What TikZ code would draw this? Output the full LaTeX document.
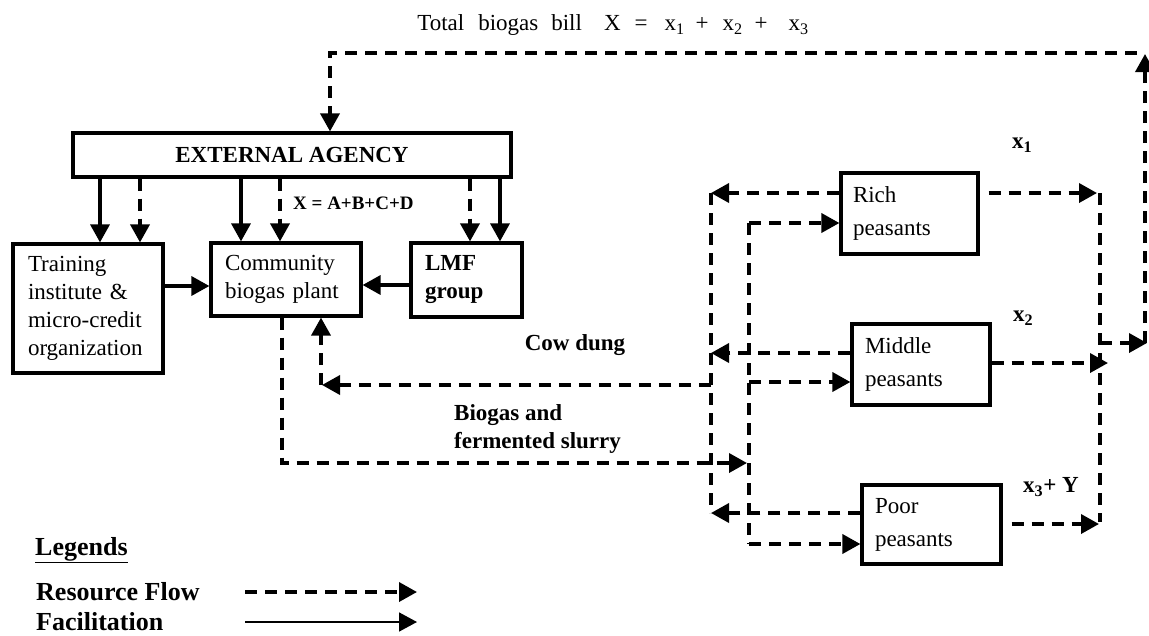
\documentclass[tikz,border=0pt]{standalone}
\usepackage{fontspec}
\setmainfont{Liberation Serif}
\usetikzlibrary{arrows.meta}
\tikzset{
  box/.style={draw, line width=3.2pt, rectangle, inner sep=0pt},
  tipend/.style={-{Triangle[length=18pt,width=19pt]}},
  flowline/.style={line width=3.6pt, dash pattern=on 12pt off 8pt},
  flow/.style={flowline, tipend},
  fac/.style={line width=3.4pt, tipend},
  thinfac/.style={line width=1.6pt, tipend},
  txt/.style={font=\fontsize{23}{28}\selectfont},
  ptxt/.style={font=\fontsize{23}{33}\selectfont},
  btxt/.style={font=\bfseries\fontsize{23}{28}\selectfont},
  legtxt/.style={font=\bfseries\fontsize{26}{30}\selectfont, anchor=west, inner sep=0pt},
}
\begin{document}
\begin{tikzpicture}[x=1pt, y=-1pt]
\useasboundingbox (0,0) rectangle (1149,635);

% ---- boxes ----
\node[box, btxt, minimum width=438pt, minimum height=44pt] (ext) at (292,155) {EXTERNAL AGENCY};
\node[box, txt, minimum width=150pt, minimum height=129pt, text width=120pt, align=left] (train) at (88,308.5)
  {Training\\institute \&\\micro-credit\\organization};
\node[box, txt, minimum width=150pt, minimum height=73pt, text width=122pt, align=left] (comm) at (286,279.5)
  {Community\\biogas plant};
\node[box, btxt, minimum width=111pt, minimum height=74pt, text width=83pt, align=left] (lmf) at (466.5,280)
  {LMF\\group};
\node[box, ptxt, minimum width=137pt, minimum height=81pt, text width=113pt, align=left] (rich) at (909.5,213.5)
  {Rich\\peasants};
\node[box, ptxt, minimum width=138pt, minimum height=81pt, text width=112pt, align=left] (middle) at (921,364.5)
  {Middle\\peasants};
\node[box, ptxt, minimum width=139pt, minimum height=79pt, text width=113pt, align=left] (poor) at (931.5,524.5)
  {Poor\\peasants};

% ---- labels ----
\node[txt] (title) at (613,25) {Total\hspace{14pt}biogas\hspace{13pt}bill\hspace{22pt}X\hspace{14pt}=\hspace{17pt}x\textsubscript{1}\hspace{11pt}+\hspace{14pt}x\textsubscript{2}\hspace{12pt}+\hspace{21pt}x\textsubscript{3}};
\node[font=\bfseries\fontsize{19}{22}\selectfont, anchor=west, inner sep=0pt] (xf) at (293,203) {X = A+B+C+D};
\node[btxt, anchor=west, inner sep=0pt] (x1) at (1012,145) {x\textsubscript{1}};
\node[btxt, anchor=west, inner sep=0pt] (x2) at (1013,318) {x\textsubscript{2}};
\node[btxt, anchor=west, inner sep=0pt] (x3) at (1023,487) {x\textsubscript{3}+ Y};
\node[btxt] (cow) at (575,345) {Cow dung};
\node[btxt, anchor=west, align=left, inner sep=0pt] (bio) at (454,429) {Biogas and\\fermented slurry};

% ---- named points ----
\coordinate (topL) at (330,53);
\coordinate (topR) at (1145,53);
\coordinate (farR) at (1145,343);
\coordinate (rbusJ) at (1100,343);
\coordinate (rbusT) at (1100,193);
\coordinate (rbusB) at (1100,522);
\coordinate (obusT) at (711,193);
\coordinate (obusB) at (711,513);
\coordinate (ibusT) at (749,223);
\coordinate (ibusB) at (749,544);
\coordinate (cowR) at (711,385);
\coordinate (cowL) at (321,385);
\coordinate (bioC) at (282,463);
\coordinate (bioE) at (747,463);

% ---- external agency loop ----
\draw[flow] (rbusJ) -- ([xshift=2pt]farR);
\draw[flow] (farR) -- ([yshift=-1pt]topR);
\draw[flow] ([xshift=-8pt]topR) -- (topL) -- (topL |- ext.north);

% ---- external agency to organisations ----
\draw[fac]  (ext.south -| 100,0) -- (train.north -| 100,0);
\draw[flow] (ext.south -| 140,0) -- (train.north -| 140,0);
\draw[fac]  (ext.south -| 241,0) -- (comm.north -| 241,0);
\draw[flow] (ext.south -| 280,0) -- (comm.north -| 280,0);
\draw[flow] (ext.south -| 470,0) -- (lmf.north -| 470,0);
\draw[fac]  (ext.south -| 500,0) -- (lmf.north -| 500,0);

\draw[fac] (train.east |- 0,286) -- (comm.west |- 0,286);
\draw[fac] (lmf.west |- 0,285) -- (comm.east |- 0,285);

% ---- right bus (payments) ----
\draw[flowline] (rbusT) -- (rbusB);
\draw[flow] ([xshift=9pt]rich.east |- rbusT) -- ([xshift=-3pt]rbusT);
\draw[flow] (middle.east |- 0,363) -- (1108,363);
\draw[flow] ([xshift=9pt]poor.east |- 0,524) -- (1099,524);

% ---- outer left bus (cow dung) ----
\draw[flowline] (obusT) -- (obusB);
\draw[flow] (rich.west |- obusT) -- (obusT);
\draw[flow] (middle.west |- 0,353) -- (711,353);
\draw[flow] (poor.west |- obusB) -- (obusB);
\draw[flow] (cowR) -- ([xshift=1pt]cowL);
\draw[flow] (cowL) -- (cowL |- comm.south);

% ---- inner left bus (biogas and slurry) ----
\draw[flowline] (ibusT) -- (ibusB);
\draw[flow] (ibusT) -- (rich.west |- ibusT);
\draw[flow] (749,382) -- (middle.west |- 0,382);
\draw[flow] (ibusB) -- (poor.west |- ibusB);
\draw[flow] (bioC |- comm.south) -- (bioC) -- (bioE);

% ---- legend ----
\node[legtxt] (leg) at (35,550) {\underline{Legends}};
\node[legtxt] (rf) at (36,592) {Resource Flow};
\node[legtxt] (fa) at (36,622) {Facilitation};
\coordinate (l1a) at (245,592);
\coordinate (l1b) at (417,592);
\coordinate (l2a) at (245,622);
\coordinate (l2b) at (417,622);
\draw[flow] (l1a) -- (l1b);
\draw[thinfac] (l2a) -- (l2b);
\end{tikzpicture}
\end{document}
